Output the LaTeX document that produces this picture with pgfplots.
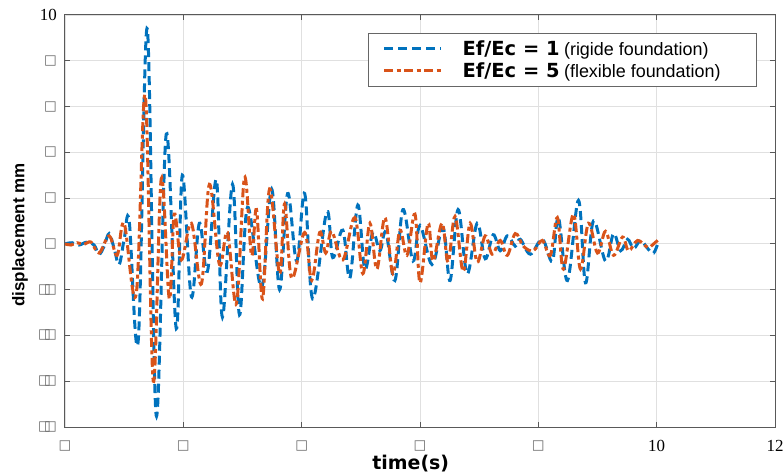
\documentclass[border=0pt]{standalone}
\usepackage{pgfplots}
\pgfplotsset{compat=1.18}
\usepackage{fontspec}
\setmainfont{Liberation Serif}
\newfontfamily\dvs{DejaVu Sans}
\newfontfamily\lsans{Liberation Sans}
\definecolor{mblue}{RGB}{0,114,189}
\definecolor{morange}{RGB}{217,83,25}
\newcommand{\pb}{{\dvs\fontsize{13.5}{15}\selectfont\color{black!60}□}}
\newcommand{\nb}{{\dvs\fontsize{13.5}{15}\selectfont\color{black!60}□\kern-0.5em□}}
\begin{document}
\begin{tikzpicture}
\path[use as bounding box] (-65bp,-48bp) rectangle (718bp,427bp);
\begin{axis}[
  at={(0,0)}, anchor=south west,
  scale only axis, width=710bp, height=412bp,
  xmin=0, xmax=12, ymin=-8, ymax=10,
  xtick={0,2,...,12}, ytick={-8,-6,...,10},
  xticklabels={\pb,\pb,\pb,\pb,\pb,10,12},
  yticklabels={\nb,\nb,\nb,\nb,\pb,\pb,\pb,\pb,\pb,10},
  ticklabel style={font=\fontsize{17}{20}\selectfont, inner sep=0pt},
  xticklabel style={anchor=center, yshift=-19bp},
  yticklabel style={anchor=east, xshift=-8bp},
  grid=major,
  major grid style={color=black!12, line width=0.8bp},
  axis line style={color=black!65, line width=1bp},
  tick style={color=black!65, line width=1bp},
  tick align=inside, major tick length=5bp,
  xlabel={{\dvs\bfseries time(s)}},
  xlabel style={font=\fontsize{19}{21}\selectfont, at={(axis description cs:0.487,0)}, anchor=center, yshift=-37bp},
  ylabel={{\lsans\bfseries displacement mm}},
  ylabel style={font=\fontsize{17}{19}\selectfont, at={(axis description cs:-0.0634,0.466)}, anchor=center},
  legend cell align=left,
  legend style={at={(0.9746,0.956)}, anchor=north east, draw=black!60, line width=0.8bp, fill=white,
    font=\fontsize{18}{21}\selectfont, inner xsep=14bp, inner ysep=5bp, row sep=2bp,
    /tikz/every odd column/.append style={column sep=18bp}},
  legend image code/.code={\draw[#1] (0bp,0bp) -- (57bp,0bp);},
]
\addplot[mblue, line width=3bp, dash pattern=on 9bp off 5bp, smooth, tension=0.6] coordinates {
(0,0) (0.119,0.05) (0.237,-0.05) (0.373,0.08) (0.492,-0.05) (0.576,-0.45) (0.661,-0.1) (0.746,0.45) (0.831,-0.2) (0.915,-0.9) (1.000,0.2) (1.085,1.0) (1.237,-4.25) (1.390,9.4) (1.542,-7.5) (1.712,4.8) (1.881,-3.7) (1.983,3.0) (2.136,-2.3) (2.271,0.9) (2.407,-1.2) (2.559,2.8) (2.661,-3.2) (2.831,2.6) (2.949,-3.1) (3.085,1.6) (3.322,-1.9) (3.492,2.4) (3.627,-2.0) (3.763,2.2) (3.915,-0.75) (4.051,2.2) (4.186,-2.4) (4.424,1.4) (4.525,-0.6) (4.695,0.6) (4.814,-1.5) (4.949,1.7) (5.068,-1.1) (5.203,0.5) (5.322,-0.3) (5.424,0.5) (5.576,-1.6) (5.712,1.5) (5.881,-0.75) (6.000,0.8) (6.203,-0.9) (6.390,0.7) (6.508,-1.6) (6.644,1.5) (6.797,-1.3) (6.966,0.9) (7.102,-0.65) (7.237,0.4) (7.356,-0.3) (7.475,0.35) (7.610,-0.1) (7.695,0.2) (7.864,-0.45) (8.068,0.2) (8.237,-0.75) (8.339,1.15) (8.492,-1.6) (8.678,1.9) (8.797,-1.7) (8.932,1.0) (9.136,-0.75) (9.271,0.45) (9.390,-0.3) (9.508,0.2) (9.610,-0.2) (9.729,0.15) (9.847,-0.2) (9.949,-0.4) (10.034,0.15)
};
\addlegendentry{{\dvs\bfseries\fontsize{19.5}{21}\selectfont Ef/Ec = 1} {\lsans (rigide foundation)}\hspace*{20bp}}
\addplot[morange, line width=3bp, dash pattern=on 9bp off 3.5bp on 4bp off 3.5bp, smooth, tension=0.6] coordinates {
(0,0) (0.102,-0.05) (0.203,0.05) (0.322,-0.02) (0.441,0.08) (0.576,-0.4) (0.746,0.35) (0.881,-0.5) (1.000,0.9) (1.203,-2.2) (1.356,6.5) (1.492,-6.0) (1.627,2.85) (1.763,-2.4) (1.847,1.3) (1.966,-0.7) (2.136,0.9) (2.305,-1.75) (2.441,2.6) (2.610,-0.9) (2.746,0.5) (2.898,-2.6) (3.034,2.9) (3.153,-0.5) (3.237,1.5) (3.339,-2.4) (3.458,2.4) (3.627,-1.3) (3.712,1.75) (3.831,-1.5) (4.051,0.5) (4.169,-1.6) (4.305,0.5) (4.407,-0.4) (4.508,0.55) (4.695,-0.7) (4.898,1.15) (5.034,-1.3) (5.153,0.9) (5.271,-1.1) (5.407,1.15) (5.542,-1.3) (5.661,0.6) (5.780,-0.5) (5.915,1.3) (6.000,-1.7) (6.136,0.9) (6.220,-0.75) (6.373,0.9) (6.475,-0.8) (6.593,1.2) (6.729,-1.2) (6.847,0.9) (6.966,-0.8) (7.102,0.35) (7.220,-0.45) (7.356,0.15) (7.475,-0.5) (7.610,0.45) (7.746,-0.1) (7.915,-0.3) (8.068,0.15) (8.203,-0.5) (8.322,1.15) (8.424,-1.1) (8.593,1.3) (8.712,-1.1) (8.847,0.9) (9.000,-0.4) (9.136,0.55) (9.271,-0.5) (9.424,0.3) (9.525,-0.3) (9.678,0.15) (9.847,-0.15) (9.949,0.0) (10.034,0.2)
};
\addlegendentry{{\dvs\bfseries\fontsize{19.5}{21}\selectfont Ef/Ec = 5} {\lsans (flexible foundation)}\hspace*{20bp}}
\end{axis}
\end{tikzpicture}
\end{document}
